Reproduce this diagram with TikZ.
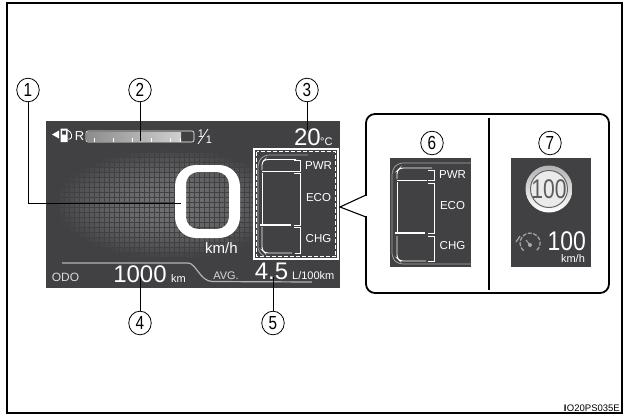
\documentclass[tikz,border=0pt]{standalone}
\usepackage{fontspec}
\setmainfont{Liberation Sans}
\usetikzlibrary{shadings,calc}
\definecolor{panel}{HTML}{414042}
\tikzset{
 x=1pt,y=-1pt,
 num/.style={circle,draw=black,line width=.8pt,fill=white,minimum size=22.5pt,inner sep=0pt,font=\fontsize{18}{18}\selectfont},
 lead/.style={draw=black,line width=1pt},
 wt/.style={text=white,inner sep=0pt},
 bar/.style={draw=white,line width=.9pt},
 lbl/.style={wt,font=\fontsize{11.5}{12}\selectfont},
}
\begin{document}
\begin{tikzpicture}
\useasboundingbox (0,0) rectangle (630,418);
\draw[line width=1.8pt,black] (7,3) -- (7,413) -- (622,413) -- (622,3) -- cycle;
% main panel
\fill[panel] (46,121) rectangle (340,288);
% dotted glow
\foreach \i in {0,...,38}{\foreach \j in {0,...,21}{
 \pgfmathsetmacro{\cx}{62+\i*5}
 \pgfmathsetmacro{\cy}{150+\j*5}
 \pgfmathsetmacro{\op}{max(0,1-((\cx-170)/115)^2-((\cy-204)/55)^2)}
 \fill[white,opacity=\op*.25] (\cx-2.1,\cy-2.1) rectangle (\cx+2.1,\cy+2.1);
}}
% road strips
\draw[white!60!panel,line width=1.2pt] (62,263) -- (188,263) .. controls (196,263) and (200,281) .. (212,281.5) -- (312,282);
% fuel gauge
\fill[white] (52,134.5) -- (59,130.5) -- (59,138.5) -- cycle;
\fill[white,even odd rule] (60.5,128.5) rectangle (67.5,142) (62,130.5) rectangle (66,134.5);
\draw[white,line width=.8pt,rounded corners=1.5pt] (67.5,130) -- (71.5,133) -- (71.5,139) -- (68,139);
\node[wt,font=\fontsize{13}{13}\selectfont] (r) at (79.5,136) {R};
\draw[white,line width=.6pt,rounded corners=2pt] (86,131) rectangle (194,142);
\shade[left color=white!40!panel,right color=white!75!panel] (87,132) rectangle (181,141);
\foreach \t in {94,113,132,151,170,180}{\draw[white,line width=.6pt] (\t,138) -- (\t,142);}
\node[wt,font=\fontsize{11}{11}\selectfont] (fa) at (201,133.5) {1};
\node[wt,font=\fontsize{11}{11}\selectfont] (fb) at (209,140) {1};
\draw[white,line width=.8pt] (198,144) -- (208,129);
% temp
\node[wt,font=\fontsize{24}{24}\selectfont,anchor=base east] (temp) at (321,145) {20};
\node[wt,font=\fontsize{11}{11}\selectfont,anchor=base west] (cdeg) at (320,145) {°C};
% speed
\fill[white,even odd rule,rounded corners=21pt] (175,165) rectangle (240,238)
 [rounded corners=12pt] (186,172) rectangle (229,229);
\node[wt,font=\fontsize{15}{15}\selectfont] (kmh) at (221.5,248) {km/h};
% odo
\node[wt,text=white!80!panel,font=\fontsize{12}{12}\selectfont] (odo) at (65.5,277) {ODO};
\node[wt,font=\fontsize{24}{24}\selectfont,anchor=base] (odov) at (140,282) {1000};
\node[wt,font=\fontsize{11}{11}\selectfont,anchor=base west] (odok) at (171,282) {km};
\node[wt,text=white!80!panel,font=\fontsize{11}{11}\selectfont] (avg) at (226,276) {AVG.};
\node[wt,font=\fontsize{24}{24}\selectfont,anchor=base] (avgv) at (271.5,279) {4.5};
\node[wt,font=\fontsize{11}{11}\selectfont,anchor=base west] (avgu) at (292,279) {L/100km};
% dashed highlight
\draw[white,line width=1.4pt] (254,149) rectangle (338,259);
\draw[white,line width=.7pt,dash pattern=on 4pt off 2pt] (256.5,151.5) rectangle (335.5,256.5);
% eco bar main
\draw[white!55!panel,line width=.7pt,rounded corners=5pt] (308,155) -- (264,155) -- (258,162) -- (258,252) -- (264,256);
\draw[bar,rounded corners=3pt] (296,159.5) -- (265,159.5) -- (262,162) -- (262,170);
\draw[bar] (262,171.5) -- (294,171.5);
\draw[bar] (294,160) -- (300,160) -- (300,171) -- (294,171);
\draw[bar] (262,173) -- (262,224);
\draw[bar] (294,173.5) -- (300,173.5) -- (300,225) -- (294,225);
\draw[line width=1.5pt,white] (260,225) -- (291,225);
\draw[bar,rounded corners=3pt] (262,227) -- (262,250) -- (265,253) -- (292,253);
\draw[bar] (294,227) -- (300,227) -- (300,253) -- (295,253);
\node[lbl] (pwr) at (318.5,166) {PWR};
\node[lbl] (eco) at (318.5,198) {ECO};
\node[lbl] (chg) at (318.5,239) {CHG};
% callout
\draw[black,line width=1.8pt,fill=white,rounded corners=9pt] (366,114) -- (609,114) -- (609,293) -- (366,293) -- cycle;
\fill[white] (362,196) rectangle (368,216);
\draw[black,line width=1.1pt] (366,195) -- (340,207) -- (366,217);
\draw[black,line width=1.3pt] (489,118) -- (489,290);
% panel 6
\fill[panel] (390,158) rectangle (471,267);
\draw[white!55!panel,line width=.7pt,rounded corners=5pt] (471,163) -- (398,163) -- (392,170) -- (392,258) -- (398,264) -- (471,264);
\draw[bar,rounded corners=3pt] (432,168) -- (400,168) -- (397,171) -- (397,179);
\draw[bar] (397,180) -- (427,180);
\draw[bar] (428,170) -- (434,170) -- (434,180) -- (428,180);
\draw[bar] (397,182) -- (397,232);
\draw[bar] (428,183) -- (434,183) -- (434,233) -- (428,233);
\draw[line width=1.5pt,white] (395,233) -- (425,233);
\draw[bar,rounded corners=3pt] (397,236) -- (397,258) -- (400,261) -- (426,261);
\draw[bar] (428,236) -- (434,236) -- (434,261) -- (428,261);
\node[lbl] (pwrb) at (452.5,175) {PWR};
\node[lbl] (ecob) at (452.5,206) {ECO};
\node[lbl] (chgb) at (452.5,246) {CHG};
% panel 7
\fill[panel] (511,158) rectangle (591,267);
\shade[top color=white!70!black,bottom color=white] (549,189) circle (23.5);
\draw[panel!80!white,line width=1pt,fill=white!92!black] (549,189) circle (18.5);
\node[text=panel!85!white,inner sep=0pt,font=\fontsize{27}{27}\selectfont,xscale=.78] (sign) at (549,189.5) {100};
\node[wt,font=\fontsize{27}{27}\selectfont,anchor=base east,xscale=.85] (lim) at (586,250) {100};
\node[wt,font=\fontsize{11}{11}\selectfont] (limu) at (573,258.5) {km/h};
\draw[white!55!panel,line width=1.2pt,dash pattern=on 4pt off 1.5pt] (523.6,250.7) arc[start angle=130,end angle=410,radius=10];
\fill[white!55!panel] (530,245) circle (2);
\draw[white!55!panel,line width=1pt] (530,245) -- (526,240);
\draw[white!55!panel,line width=1.2pt] (516,242) -- (520,236);
% numbers
\node[num,yscale=1.05] (n1) at (28,90) {\scalebox{.85}[1]{1}};
\node[num,yscale=1.05] (n2) at (140,90) {\scalebox{.85}[1]{2}};
\node[num,yscale=1.05] (n3) at (307,90) {\scalebox{.85}[1]{3}};
\node[num,yscale=1.05] (n4) at (140,323) {\scalebox{.85}[1]{4}};
\node[num,yscale=1.05] (n5) at (273,323) {\scalebox{.85}[1]{5}};
\node[num,yscale=1.05] (n6) at (432,143) {\scalebox{.85}[1]{6}};
\node[num,yscale=1.05] (n7) at (550,143) {\scalebox{.85}[1]{7}};
\coordinate (a1) at (181,203);
\coordinate (a2) at (140,141);
\coordinate (a3) at (307,130);
\coordinate (a4) at (140,277);
\coordinate (a5) at (273,277);
\draw[lead] (n1) |- (a1);
\draw[lead] (n2) -- (a2);
\draw[lead] (n3) -- (a3);
\draw[lead] (n4) -- (a4);
\draw[lead] (n5) -- (a5);
\node[inner sep=0pt,anchor=east,font=\fontsize{9.5}{9.5}\selectfont] (code) at (620,408) {\textbf{I}\kern.5ptO20PS035E};
\end{tikzpicture}
\end{document}
